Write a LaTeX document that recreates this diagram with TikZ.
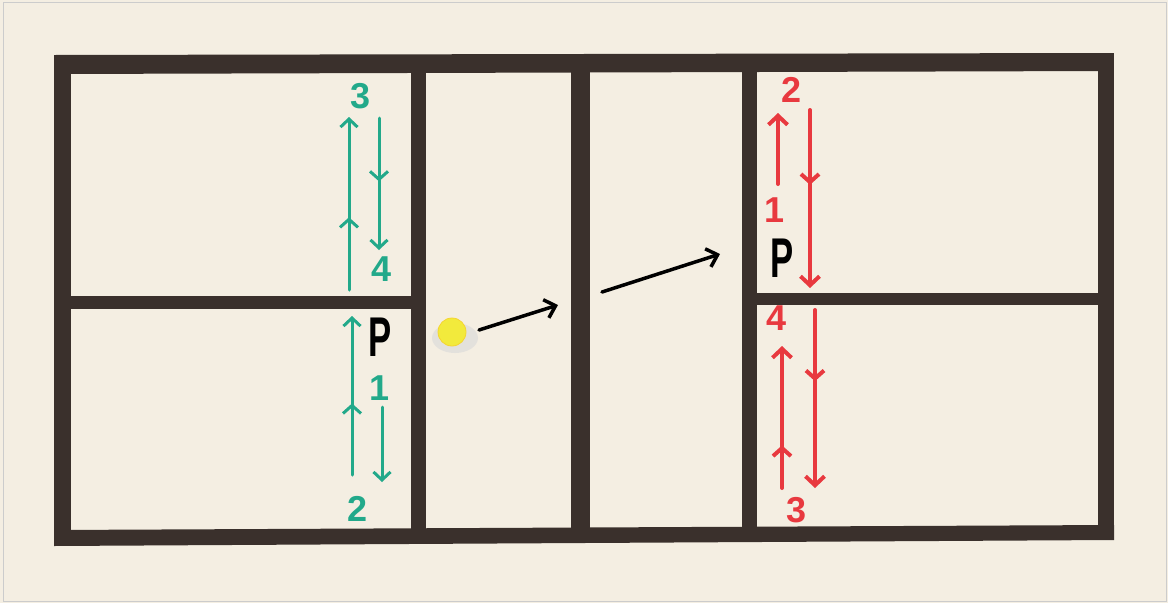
\documentclass[tikz,border=0pt]{standalone}
\usepackage{fontspec}
\setmainfont{Liberation Sans}
\usetikzlibrary{arrows.meta,decorations.markings}
\definecolor{bg}{HTML}{F4EEE2}
\definecolor{tape}{HTML}{3A302C}
\definecolor{mteal}{HTML}{22A98A}
\definecolor{mred}{HTML}{E8393F}
\definecolor{ballyel}{HTML}{F2EA3C}
\tikzset{
  tapefill/.style={fill=tape,draw=none},
  tealarrow/.style={draw=mteal,line width=3pt,line cap=round,-{Straight Barb[length=8pt,width=17pt,line width=3pt]}},
  redarrow/.style={draw=mred,line width=4pt,line cap=round,-{Straight Barb[length=9pt,width=19pt,line width=4pt]}},
  blackarrow/.style={draw=black,line width=3.5pt,line cap=round,-{Straight Barb[length=10pt,width=19pt,line width=3.5pt]}},
  midmark/.style 2 args={postaction={decorate},decoration={markings,mark=at position #1 with {\arrow{Straight Barb[length=8pt,width=18pt,line width=#2]}}}},
  tealnum/.style={text=mteal,font=\bfseries\fontsize{36}{38}\selectfont,inner sep=0pt},
  rednum/.style={text=mred,font=\bfseries\fontsize{36}{38}\selectfont,inner sep=0pt},
  pletter/.style={text=black,font=\bfseries\fontsize{56}{58}\selectfont,xscale=0.62,inner sep=0pt},
}
\begin{document}
\begin{tikzpicture}[x=1pt,y=-1pt]
% background
\fill[bg] (0,0) rectangle (1168,603);
\draw[black!20,line width=1pt] (3,2) rectangle (1166,601);
\useasboundingbox (0,0) rectangle (1168,603);
% tapes
\fill[tapefill] (54,55) -- (1110,53) -- (1110,71) -- (54,74) -- cycle;
\fill[tapefill] (54,55) rectangle (71,545);
\fill[tapefill] (54,530) -- (1114,525) -- (1114,540) -- (54,546) -- cycle;
\fill[tapefill] (1098,53) rectangle (1114,540);
\fill[tapefill] (411,73) rectangle (426,530);
\fill[tapefill] (571,72) rectangle (590,529);
\fill[tapefill] (742,71) rectangle (757,528);
\fill[tapefill] (71,296) rectangle (411,309);
\fill[tapefill] (757,293) rectangle (1098,305);
% teal arrows (left)
\coordinate (g1s) at (349,290); \coordinate (g1e) at (349,117);
\coordinate (g2s) at (379,118); \coordinate (g2e) at (379,250);
\coordinate (g3s) at (352,475); \coordinate (g3e) at (352,316);
\coordinate (g4s) at (382,407); \coordinate (g4e) at (382,482);
\draw[tealarrow,midmark={0.42}{3pt}] (g1s) -- (g1e);
\draw[tealarrow,midmark={0.48}{3pt}] (g2s) -- (g2e);
\draw[tealarrow,midmark={0.45}{3pt}] (g3s) -- (g3e);
\draw[tealarrow] (g4s) -- (g4e);
\node[tealnum] (t3) at (361,96) {3};
\node[tealnum] (t4) at (382,269) {4};
\node[tealnum] (t1) at (380,388) {1};
\node[pletter] (pl) at (380,337) {P};
\node[tealnum] (t2) at (358,509) {2};
% red arrows (right)
\coordinate (r1s) at (778,184); \coordinate (r1e) at (778,113);
\coordinate (r2s) at (810,110); \coordinate (r2e) at (810,288);
\coordinate (r3s) at (782,488); \coordinate (r3e) at (782,346);
\coordinate (r4s) at (815,310); \coordinate (r4e) at (815,488);
\draw[redarrow] (r1s) -- (r1e);
\draw[redarrow,midmark={0.42}{4pt}] (r2s) -- (r2e);
\draw[redarrow,midmark={0.30}{4pt}] (r3s) -- (r3e);
\draw[redarrow,midmark={0.40}{4pt}] (r4s) -- (r4e);
\node[rednum] (n2) at (792,90) {2};
\node[rednum] (n1) at (775,210) {1};
\node[pletter] (pr) at (782,258) {P};
\node[rednum] (n4) at (777,318) {4};
\node[rednum] (n3) at (797,510) {3};
% ball
\fill[black!15,opacity=0.6] (455,338) ellipse (23pt and 15pt);
\node[circle,fill=ballyel,draw=ballyel!80!orange,line width=0.8pt,minimum size=28pt,inner sep=0pt] (ball) at (452,332) {};
% black arrows
\coordinate (b1s) at (479,330); \coordinate (b1e) at (558,305);
\coordinate (b2s) at (602,292); \coordinate (b2e) at (720,254);
\draw[blackarrow] (b1s) -- (b1e);
\draw[blackarrow] (b2s) -- (b2e);
\end{tikzpicture}
\end{document}
